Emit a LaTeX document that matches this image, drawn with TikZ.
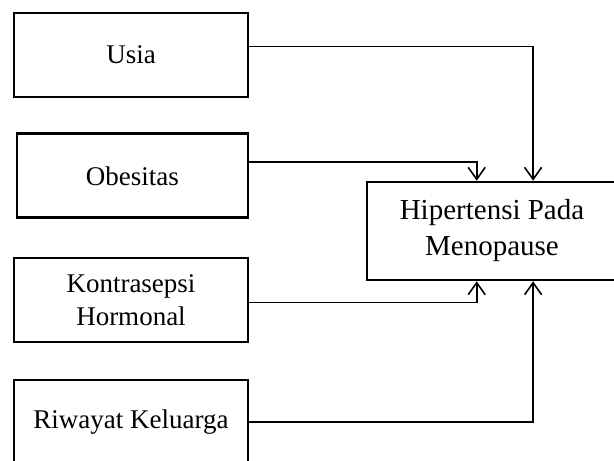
\documentclass[tikz,border=0pt]{standalone}
\usepackage{fontspec}
\setmainfont{Liberation Serif}
\usetikzlibrary{arrows.meta,positioning,calc}
\tikzset{
  factor/.style={draw=black, line width=1.3pt, align=center, inner sep=2pt, minimum width=117pt, minimum height=42pt, font=\fontsize{13.5}{16.5}\selectfont},
  outcome/.style={draw=black, line width=1.3pt, align=center, inner sep=2pt, minimum width=125pt, minimum height=49pt, font=\fontsize{14.5}{18}\selectfont},
  link/.style={line width=0.8pt},
  arrowlink/.style={-{Straight Barb[length=6pt,width=8.5pt]}, line width=0.8pt}
}
\begin{document}
\begin{tikzpicture}[x=0.5pt,y=0.5pt]
\useasboundingbox (0,0) rectangle (614,460);
\node[factor] (usia) at (131,405) {Usia};
\node[factor, minimum width=115.6pt] (obes) at (132.4,284.2) {Obesitas};
\node[factor] (kontra) at (131,160) {Kontrasepsi\\Hormonal};
\node[factor] (riwayat) at (131,38) {Riwayat Keluarga};
\node[outcome] (hyp) at (492,229) {Hipertensi Pada\\Menopause};
% factors into the outcome box
\draw[arrowlink] ([yshift=4.15pt]usia.east) -| ([xshift=83.7pt]hyp.north west);
\draw[arrowlink] ([yshift=6.9pt]obes.east) -| ([xshift=55.5pt]hyp.north west);
\draw[arrowlink] ([yshift=-1.35pt]kontra.east) -| ([xshift=55.5pt]hyp.south west);
\draw[arrowlink] (riwayat.east) -| ([xshift=83.7pt]hyp.south west);
\end{tikzpicture}
\end{document}
